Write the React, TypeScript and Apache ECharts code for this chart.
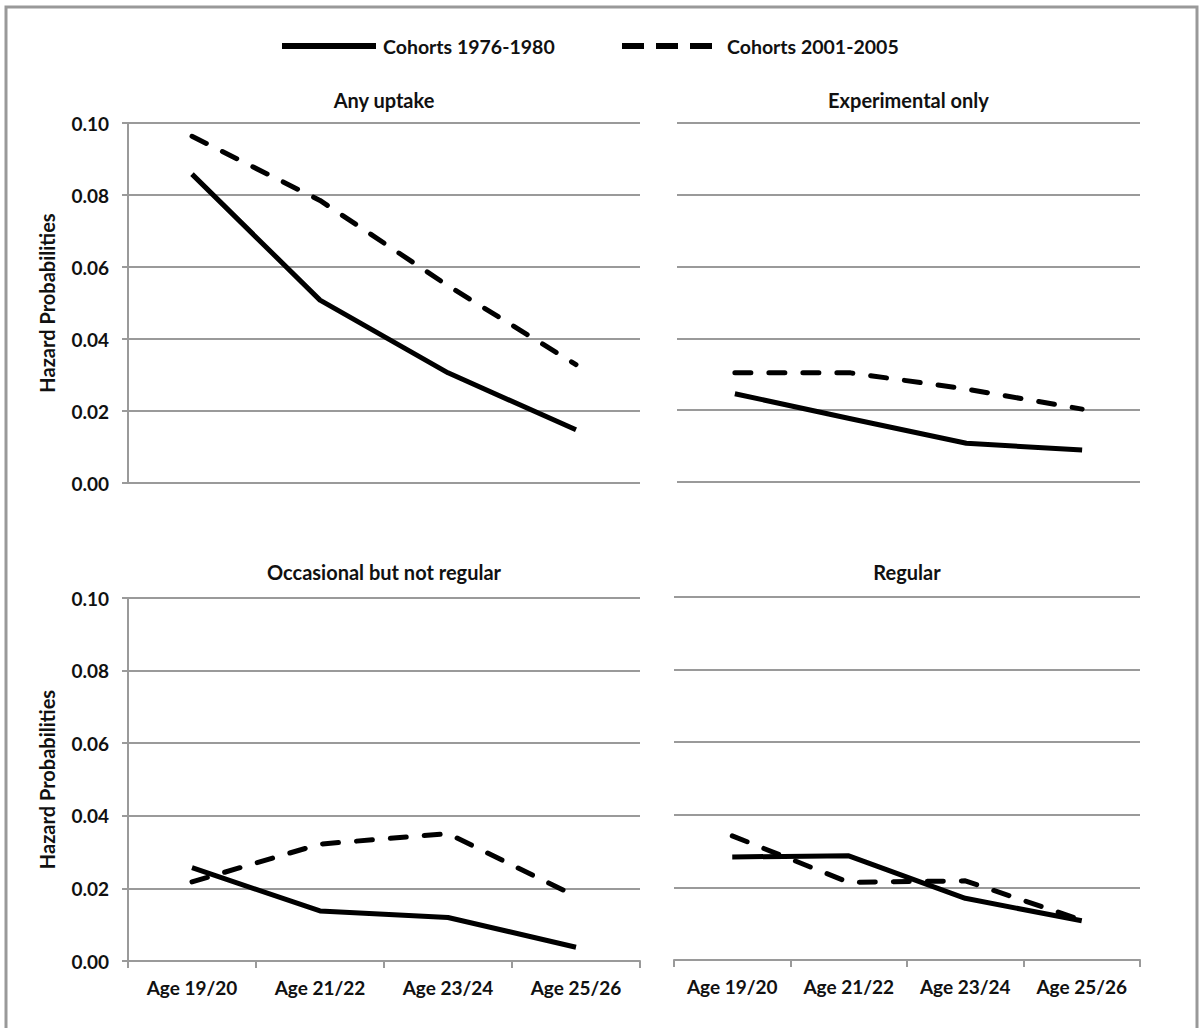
import React, { useEffect, useRef } from "react";
import * as echarts from "echarts";

// ---- data ----
const categories = ["Age 19/20", "Age 21/22", "Age 23/24", "Age 25/26"];
const seriesNames = ["Cohorts 1976-1980", "Cohorts 2001-2005"];
const panelTitles = ["Any uptake", "Experimental only", "Occasional but not regular", "Regular"];
const yAxisName = "Hazard Probabilities";
const yMin = 0;
const yMax = 0.1;
const yStep = 0.02;

const anyUptake1976 = [0.0858, 0.0508, 0.0306, 0.0148];
const anyUptake2001 = [0.0963, 0.0785, 0.0548, 0.0329];
const experimental1976 = [0.0246, 0.0176, 0.0108, 0.0089];
const experimental2001 = [0.0304, 0.0304, 0.0259, 0.0203];
const occasional1976 = [0.0257, 0.0138, 0.012, 0.0038];
const occasional2001 = [0.0218, 0.0322, 0.0351, 0.0178];
const regular1976 = [0.0284, 0.0287, 0.017, 0.0108];
const regular2001 = [0.0342, 0.0214, 0.0218, 0.011];

const FONT = "Lato, 'Open Sans', sans-serif";

export default function App() {
  const ref = useRef<HTMLDivElement>(null);

  useEffect(() => {
    if (!ref.current) return;
    const chart = echarts.init(ref.current, null, { renderer: "svg" });

    const panelData = [
      [anyUptake1976, anyUptake2001],
      [experimental1976, experimental2001],
      [occasional1976, occasional2001],
      [regular1976, regular2001],
    ];

    // layout of each plot area: [left, top, right, bottom]
    const boxes = [
      [128, 123, 640, 483],
      [677, 123, 1140, 482],
      [128, 598, 640, 961],
      [674, 597, 1140, 960],
    ];

    const gridColor = "#9a9a9a";
    const textColor = "#111";
    const dashPattern = [16, 18];

    const grids = boxes.map((b) => ({
      left: b[0],
      top: b[1],
      width: b[2] - b[0],
      height: b[3] - b[1],
      containLabel: false,
      outerBoundsMode: "none",
    }));

    const xAxes = boxes.map((_, i) => {
      const bottom = i >= 2;
      return {
        type: "category",
        gridIndex: i,
        data: categories,
        boundaryGap: true,
        axisLine: { show: bottom, lineStyle: { color: gridColor, width: 2 } },
        axisTick: { show: bottom, length: 7, lineStyle: { color: gridColor, width: 2 } },
        axisLabel: {
          show: bottom,
          interval: 0,
          hideOverlap: false,
          margin: 17,
          color: textColor,
          fontFamily: FONT,
          fontWeight: "bold",
          fontSize: 19,
        },
        splitLine: { show: false },
      };
    });

    const yAxes = boxes.map((_, i) => {
      const left = i % 2 === 0;
      return {
        type: "value",
        gridIndex: i,
        min: yMin,
        max: yMax,
        interval: yStep,
        name: left ? yAxisName : "",
        nameLocation: "middle",
        nameGap: 71,
        nameRotate: 90,
        nameTextStyle: {
          color: textColor,
          fontFamily: FONT,
          fontWeight: "bold",
          fontSize: 20,
        },
        axisLine: { show: left, lineStyle: { color: gridColor, width: 2 } },
        axisTick: { show: left, length: 6, lineStyle: { color: gridColor, width: 2 } },
        axisLabel: {
          show: left,
          margin: 19,
          color: textColor,
          fontFamily: FONT,
          fontWeight: "bold",
          fontSize: 19,
          formatter: (v: number) => v.toFixed(2),
        },
        splitLine: { show: true, lineStyle: { color: gridColor, width: 2 } },
      };
    });

    const series: any[] = [];
    panelData.forEach((pair, i) => {
      pair.forEach((vals, s) => {
        series.push({
          type: "line",
          name: seriesNames[s],
          xAxisIndex: i,
          yAxisIndex: i,
          data: vals,
          symbol: "none",
          smooth: false,
          lineStyle: {
            color: "#000",
            width: 5,
            type: s === 0 ? "solid" : dashPattern,
            cap: s === 0 ? "butt" : "round",
            join: "round",
          },
          itemStyle: { color: "#000" },
          emphasis: { disabled: true },
          z: s === 0 ? 3 : 2,
        });
      });
    });

    const titleGraphics = boxes.map((b, i) => ({
      type: "text",
      x: (b[0] + b[2]) / 2,
      y: i < 2 ? 100 : 572,
      silent: true,
      style: {
        text: panelTitles[i],
        align: "center",
        verticalAlign: "middle",
        fontFamily: FONT,
        fontWeight: "bold",
        fontSize: 20,
        fill: textColor,
      },
    }));

    // legend (drawn manually: plain line samples, no markers)
    const legendY = 46;
    const legendItems = [
      { x0: 282, x1: 376, textX: 383, dash: null as null | number[] },
      { x0: 622, x1: 713, textX: 727, dash: [22, 12] },
    ];
    const legendGraphics: any[] = [];
    legendItems.forEach((it, s) => {
      legendGraphics.push({
        type: "line",
        silent: true,
        shape: { x1: it.x0, y1: legendY, x2: it.x1, y2: legendY },
        style: {
          stroke: "#000",
          lineWidth: 6,
          lineDash: it.dash || undefined,
        },
      });
      legendGraphics.push({
        type: "text",
        silent: true,
        x: it.textX,
        y: legendY,
        style: {
          text: seriesNames[s],
          align: "left",
          verticalAlign: "middle",
          fontFamily: FONT,
          fontWeight: "bold",
          fontSize: 19.5,
          fill: textColor,
        },
      });
    });

    chart.setOption({
      animation: false,
      backgroundColor: "#fff",
      grid: grids,
      xAxis: xAxes,
      yAxis: yAxes,
      graphic: [
        {
          type: "rect",
          silent: true,
          shape: { x: 6, y: 7, width: 1191, height: 1040 },
          style: { fill: "none", stroke: "#999", lineWidth: 3 },
        },
        ...titleGraphics,
        ...legendGraphics,
      ],
      series,
    });

    return () => chart.dispose();
  }, []);

  return (
    <div
      ref={ref}
      style={{ position: "absolute", left: 0, top: 0, width: 1200, height: 1028 }}
    />
  );
}
